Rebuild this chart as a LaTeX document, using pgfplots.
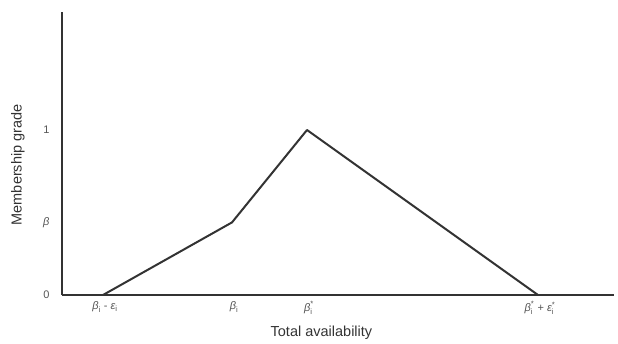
\documentclass[border=0pt]{standalone}
\usepackage{pgfplots}
\pgfplotsset{compat=1.18}
\usepackage{amsmath}
\usepackage{fontspec}
\setmainfont{Liberation Sans}
\definecolor{ln}{HTML}{333333}
\definecolor{tk}{HTML}{555555}
\newcommand{\bi}{$\textit{β}_{\text{i}}$}
\newcommand{\bis}{$\textit{β}^{\text{*}}_{\text{i}}$}
\newcommand{\eis}{$\textit{ε}^{\text{*}}_{\text{i}}$}
\newcommand{\ei}{$\textit{ε}_{\text{i}}$}
\begin{document}
\begin{tikzpicture}
\begin{axis}[
  scale only axis, width=552pt, height=283pt,
  xmin=0, xmax=552, ymin=0, ymax=1.715,
  axis lines=left, axis line style={ln, line width=1.8pt, -},
  xtick={41,170,245,476},
  xticklabels={{\bi{} - \ei}, {\bi}, {\bis}, {\bis{} + \eis}},
  ytick={0,0.44,1},
  yticklabels={0,{\textit{β}},1},
  major tick length=0pt,
  tick label style={font=\fontsize{11}{12}\selectfont, text=tk},
  xticklabel style={yshift=-3pt, xshift=2pt},
  yticklabel style={xshift=-9pt},
  xlabel={Total availability}, ylabel={Membership grade},
  every axis x label/.style={at={(axis description cs:0.47,0)}, anchor=center, yshift=-38pt, font=\fontsize{14.5}{16}\selectfont, text=ln},
  every axis y label/.style={at={(axis description cs:0,0.46)}, anchor=center, rotate=90, yshift=44pt, font=\fontsize{14.5}{16}\selectfont, text=ln},
  clip=false,
]
\addplot[ln, line width=2pt, line join=round] coordinates {(41,0) (170,0.44) (245,1) (476,0)};
\end{axis}
\path (-62pt,-48pt) rectangle (556pt,295pt);
\end{tikzpicture}
\end{document}
